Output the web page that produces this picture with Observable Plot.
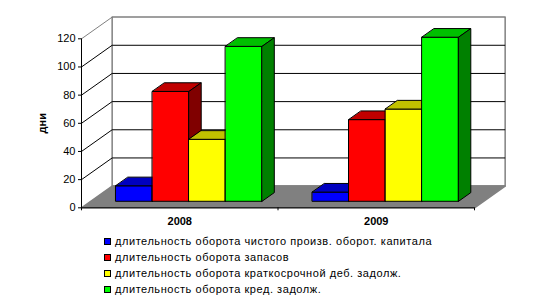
<!DOCTYPE html>
<html><head><meta charset="utf-8">
<script src="https://cdn.jsdelivr.net/npm/d3@7"></script>
<script src="https://cdn.jsdelivr.net/npm/@observablehq/plot@0.6"></script>
<style>
body{margin:0;background:#fff;font-family:Arial,"Liberation Sans",sans-serif;}
#chart{position:absolute;left:0;top:0;}
#legend{position:absolute;left:104px;top:233px;font-size:11px;line-height:16px;color:#000;letter-spacing:0.55px;}
.item{display:flex;align-items:center;height:16px;white-space:nowrap;}
.sw{width:5px;height:5px;border:1px solid #000;margin-right:4px;}
</style></head><body><div id="chart"></div><div id="legend"></div>
<script>
const categories = ["2008", "2009"];
const seriesNames = [
  "длительность оборота чистого произв. оборот. капитала",
  "длительность оборота запасов",
  "длительность оборота краткосрочной деб. задолж.",
  "длительность оборота кред. задолж."
];
const netCapital = [11, 6.5];
const inventory = [78, 58];
const receivables = [44, 65.5];
const payables = [110, 116.5];
const yTicks = [0, 20, 40, 60, 80, 100, 120];
const yLabel = "дни";

const frontColors = ["#0000ff", "#ff0000", "#ffff00", "#00ff00"];
const topColors = ["#0000c0", "#c00000", "#c0c000", "#00c000"];
const sideColors = ["#000080", "#800000", "#808000", "#008000"];

const values = [netCapital, inventory, receivables, payables];
const nCat = categories.length;
const yMax = yTicks[yTicks.length - 1];

// oblique projection of depth z (0 front .. 1 back) into data units
const DX = 0.156, DY = 15.4;
const P = (x, y, z) => ({x: x + z * DX, y: y + z * DY});
const barW = 0.186, z0 = 0.3, z1 = 0.7;
const poly = (id, pts, fill) => pts.map(p => ({id, fill, ...p}));

const walls = poly("back", [P(0,0,1), P(nCat,0,1), P(nCat,yMax,1), P(0,yMax,1)], "#ffffff");
const floor = poly("floor", [P(0,0,0), P(nCat,0,0), P(nCat,0,1), P(0,0,1)], "#808080");

const bars = [];
categories.forEach((c, i) => {
  const left0 = i + 0.5 - (values.length / 2) * barW;
  values.forEach((vals, j) => {
    const a = left0 + j * barW, b = a + barW, v = vals[i];
    bars.push(...poly(`f${i}${j}`, [P(a,0,z0), P(b,0,z0), P(b,v,z0), P(a,v,z0)], frontColors[j]));
    bars.push(...poly(`t${i}${j}`, [P(a,v,z0), P(b,v,z0), P(b,v,z1), P(a,v,z1)], topColors[j]));
    bars.push(...poly(`s${i}${j}`, [P(b,0,z0), P(b,0,z1), P(b,v,z1), P(b,v,z0)], sideColors[j]));
  });
});

const grid = yTicks.filter(v => v > 0 && v < yMax);
const diag = yTicks.filter(v => v > 0);

const chart = Plot.plot({
  width: 536,
  height: 230,
  marginLeft: 81,
  marginRight: 62,
  marginTop: 38.3,
  marginBottom: 22.7,
  x: {domain: [0, nCat], label: null},
  y: {domain: [0, yMax], label: null},
  color: {type: "identity"},
  style: {fontFamily: "Arial, 'Liberation Sans', sans-serif", fontSize: "11px", color: "#000", background: "#fff", overflow: "visible"},
  marks: [
    Plot.line(walls, {x: "x", y: "y", z: "id", fill: "fill", stroke: "#808080", curve: "linear-closed"}),
    Plot.link(grid, {x1: DX, y1: d => d + DY, x2: nCat + DX, y2: d => d + DY, stroke: "#000"}),
    Plot.link(diag, {x1: 0, y1: d => d, x2: DX, y2: d => d + DY, stroke: d => d === yMax ? "#808080" : "#000"}),
    Plot.line(floor, {x: "x", y: "y", z: "id", fill: "fill", stroke: "#808080", curve: "linear-closed"}),
    Plot.ruleX([0], {y1: 0, y2: yMax, stroke: "#000"}),
    Plot.ruleY([0], {x1: 0, x2: nCat, stroke: "#000"}),
    Plot.line(bars, {x: "x", y: "y", z: "id", fill: "fill", stroke: "#000", strokeWidth: 1, strokeLinejoin: "miter", curve: "linear-closed"}),
    Plot.axisY({ticks: yTicks, tickSize: 3, tickPadding: 3, fontSize: 11, label: null, tickFormat: d => String(d)}),
    Plot.axisX({ticks: d3.range(nCat + 1), tickSize: 3, label: null, tickFormat: () => ""}),
    Plot.text(categories, {x: (d, i) => i + 0.5, y: 0, dy: 14, text: d => d, fontWeight: "bold", fontSize: 11}),
    Plot.text([yLabel], {x: 0, y: yMax / 2, dx: -39, rotate: -90, text: d => d, fontWeight: "bold", fontSize: 11})
  ]
});
document.getElementById("chart").append(chart);

const legend = document.getElementById("legend");
seriesNames.forEach((name, j) => {
  const item = document.createElement("div");
  item.className = "item";
  const sw = document.createElement("span");
  sw.className = "sw";
  sw.style.background = frontColors[j];
  const t = document.createElement("span");
  t.textContent = name;
  item.append(sw, t);
  legend.append(item);
});
</script></body></html>
